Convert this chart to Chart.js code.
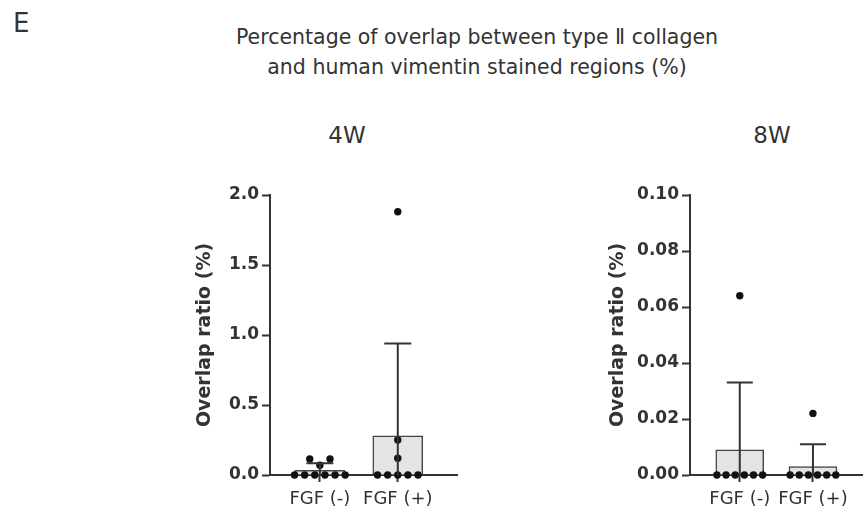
<!DOCTYPE html>
<html>
<head>
<meta charset="utf-8">
<script src="https://cdn.jsdelivr.net/npm/chart.js@4/dist/chart.umd.min.js"></script>
<style>
  html, body { margin: 0; padding: 0; background: #fff; }
  #wrap { position: relative; width: 866px; height: 517px; overflow: hidden; background: #fff; font-family: "DejaVu Sans", sans-serif; color: #333; }
  .txt { position: absolute; white-space: nowrap; }
  #panelLetter { left: 13px; top: 10px; font-size: 26px; line-height: 26px; }
  #title { left: 227px; width: 500px; top: 22px; font-size: 20.5px; line-height: 30px; text-align: center; }
  #sub4 { left: 297px; width: 100px; top: 124px; font-size: 23px; line-height: 23px; text-align: center; }
  #sub8 { left: 722px; width: 100px; top: 124px; font-size: 23px; line-height: 23px; text-align: center; }
  #c4 { position: absolute; left: 180px; top: 170px; }
  #c8 { position: absolute; left: 600px; top: 170px; }
</style>
</head>
<body>
<div id="wrap">
  <div class="txt" id="panelLetter">E</div>
  <div class="txt" id="title">Percentage of overlap between type Ⅱ collagen<br>and human vimentin stained regions (%)</div>
  <div class="txt" id="sub4">4W</div>
  <div class="txt" id="sub8">8W</div>
  <canvas id="c4" width="290" height="347"></canvas>
  <canvas id="c8" width="266" height="347"></canvas>
</div>
<script>
// ---- data ----
const categories = ['FGF (-)', 'FGF (+)'];
const yAxisTitle = 'Overlap ratio (%)';

// 4W panel
const yTicks4W = [0, 0.5, 1.0, 1.5, 2.0];
const yTickLabels4W = ['0.0', '0.5', '1.0', '1.5', '2.0'];
const mean4W = [0.033, 0.28];
const sd4W = [0.051, 0.66];
const points4W_neg = [0.114, 0.07, 0.114, 0, 0, 0, 0, 0, 0];
const points4W_pos = [1.88, 0.25, 0.12, 0, 0, 0, 0, 0];

// 8W panel
const yTicks8W = [0, 0.02, 0.04, 0.06, 0.08, 0.10];
const yTickLabels8W = ['0.00', '0.02', '0.04', '0.06', '0.08', '0.10'];
const mean8W = [0.009, 0.003];
const sd8W = [0.024, 0.008];
const points8W_neg = [0.064, 0, 0, 0, 0, 0, 0];
const points8W_pos = [0.022, 0, 0, 0, 0, 0, 0];

// ---- helpers ----
const AXIS = '#333';
const FONT = "'DejaVu Sans', sans-serif";

// simple swarm: cluster close values, spread each cluster symmetrically around the category
function swarm(values, catIndex, closeTol, step) {
  const used = new Array(values.length).fill(false);
  const out = [];
  for (let i = 0; i < values.length; i++) {
    if (used[i]) continue;
    const cluster = [];
    for (let j = i; j < values.length; j++) {
      if (!used[j] && Math.abs(values[j] - values[i]) <= closeTol) { cluster.push(j); used[j] = true; }
    }
    const m = cluster.length;
    cluster.forEach((idx, k) => {
      const off = (m === 3) ? [-1, 0, 1][k] : k - (m - 1) / 2;
      out.push({ x: catIndex + off * step, y: values[idx] });
    });
  }
  return out;
}

const errorBarPlugin = {
  id: 'errorBars',
  afterDatasetsDraw(chart) {
    const { ctx, scales: { y } } = chart;
    const o = chart.options.plugins.errorBars;
    const meta = chart.getDatasetMeta(0);
    ctx.save();
    ctx.strokeStyle = AXIS;
    ctx.lineWidth = 2;
    meta.data.forEach((bar, i) => {
      const top = y.getPixelForValue(o.means[i] + o.sds[i]);
      const bot = y.getPixelForValue(Math.max(o.means[i] - o.sds[i], y.min));
      ctx.beginPath();
      ctx.moveTo(bar.x, bot);
      ctx.lineTo(bar.x, top);
      ctx.moveTo(bar.x - o.cap / 2, top);
      ctx.lineTo(bar.x + o.cap / 2, top);
      ctx.stroke();
    });
    ctx.restore();
  }
};

function makePanel(canvasId, cfg) {
  const barData = categories.map((c, i) => ({ x: i, y: cfg.means[i] }));
  const pts = swarm(cfg.pointsNeg, 0, cfg.tol, cfg.step).concat(swarm(cfg.pointsPos, 1, cfg.tol, cfg.step));
  return new Chart(document.getElementById(canvasId), {
    data: {
      datasets: [
        {
          type: 'bar', data: barData, barThickness: cfg.barW,
          backgroundColor: '#e4e4e4', borderColor: '#444', borderWidth: 1.5, order: 2
        },
        {
          type: 'scatter', data: pts, pointRadius: 3.7, pointBackgroundColor: '#111',
          pointBorderWidth: 0, clip: false, order: 1
        }
      ]
    },
    options: {
      responsive: false, animation: false,
      layout: { padding: { top: 25, right: cfg.padRight, bottom: 0, left: 0 } },
      plugins: {
        legend: { display: false }, tooltip: { enabled: false },
        errorBars: { means: cfg.means, sds: cfg.sds, cap: cfg.cap }
      },
      scales: {
        x: {
          type: 'linear', min: cfg.xmin, max: cfg.xmax, offset: false,
          afterBuildTicks: ax => { ax.ticks = categories.map((c, i) => ({ value: i })); },
          afterFit: ax => { ax.height = 42; },
          ticks: {
            callback: v => categories[v], color: AXIS, padding: 7,
            font: { family: FONT, size: 18 }, maxRotation: 0, autoSkip: false
          },
          grid: { offset: false, drawOnChartArea: false, drawTicks: true, tickLength: 7, tickWidth: 2, color: AXIS },
          border: { display: true, color: AXIS, width: 2 }
        },
        y: {
          min: cfg.ticks[0], max: cfg.ticks[cfg.ticks.length - 1],
          afterBuildTicks: ax => { ax.ticks = cfg.ticks.map(v => ({ value: v })); },
          afterFit: ax => { ax.width = 90; },
          ticks: {
            callback: v => cfg.tickLabels[cfg.ticks.indexOf(v)],
            color: AXIS, padding: 3, font: { family: FONT, size: 17, weight: 'bold' }
          },
          grid: { drawOnChartArea: false, drawTicks: true, tickLength: 8, tickWidth: 2, color: AXIS },
          border: { display: true, color: AXIS, width: 2 },
          title: {
            display: true, text: yAxisTitle, color: AXIS,
            font: { family: FONT, size: 19, weight: 'bold' },
            padding: { top: cfg.titlePad, bottom: 0 }
          }
        }
      }
    },
    plugins: [errorBarPlugin]
  });
}

makePanel('c4', {
  means: mean4W, sds: sd4W, pointsNeg: points4W_neg, pointsPos: points4W_pos,
  ticks: yTicks4W, tickLabels: yTickLabels4W,
  xmin: -0.64, xmax: 1.76, padRight: 13, barW: 50, cap: 27, tol: 0.06, step: 0.13, titlePad: 14
});
makePanel('c8', {
  means: mean8W, sds: sd8W, pointsNeg: points8W_neg, pointsPos: points8W_pos,
  ticks: yTicks8W, tickLabels: yTickLabels8W,
  xmin: -0.68, xmax: 1.67, padRight: 0, barW: 48, cap: 26, tol: 0.003, step: 0.125, titlePad: 7
});
</script>
</body>
</html>
